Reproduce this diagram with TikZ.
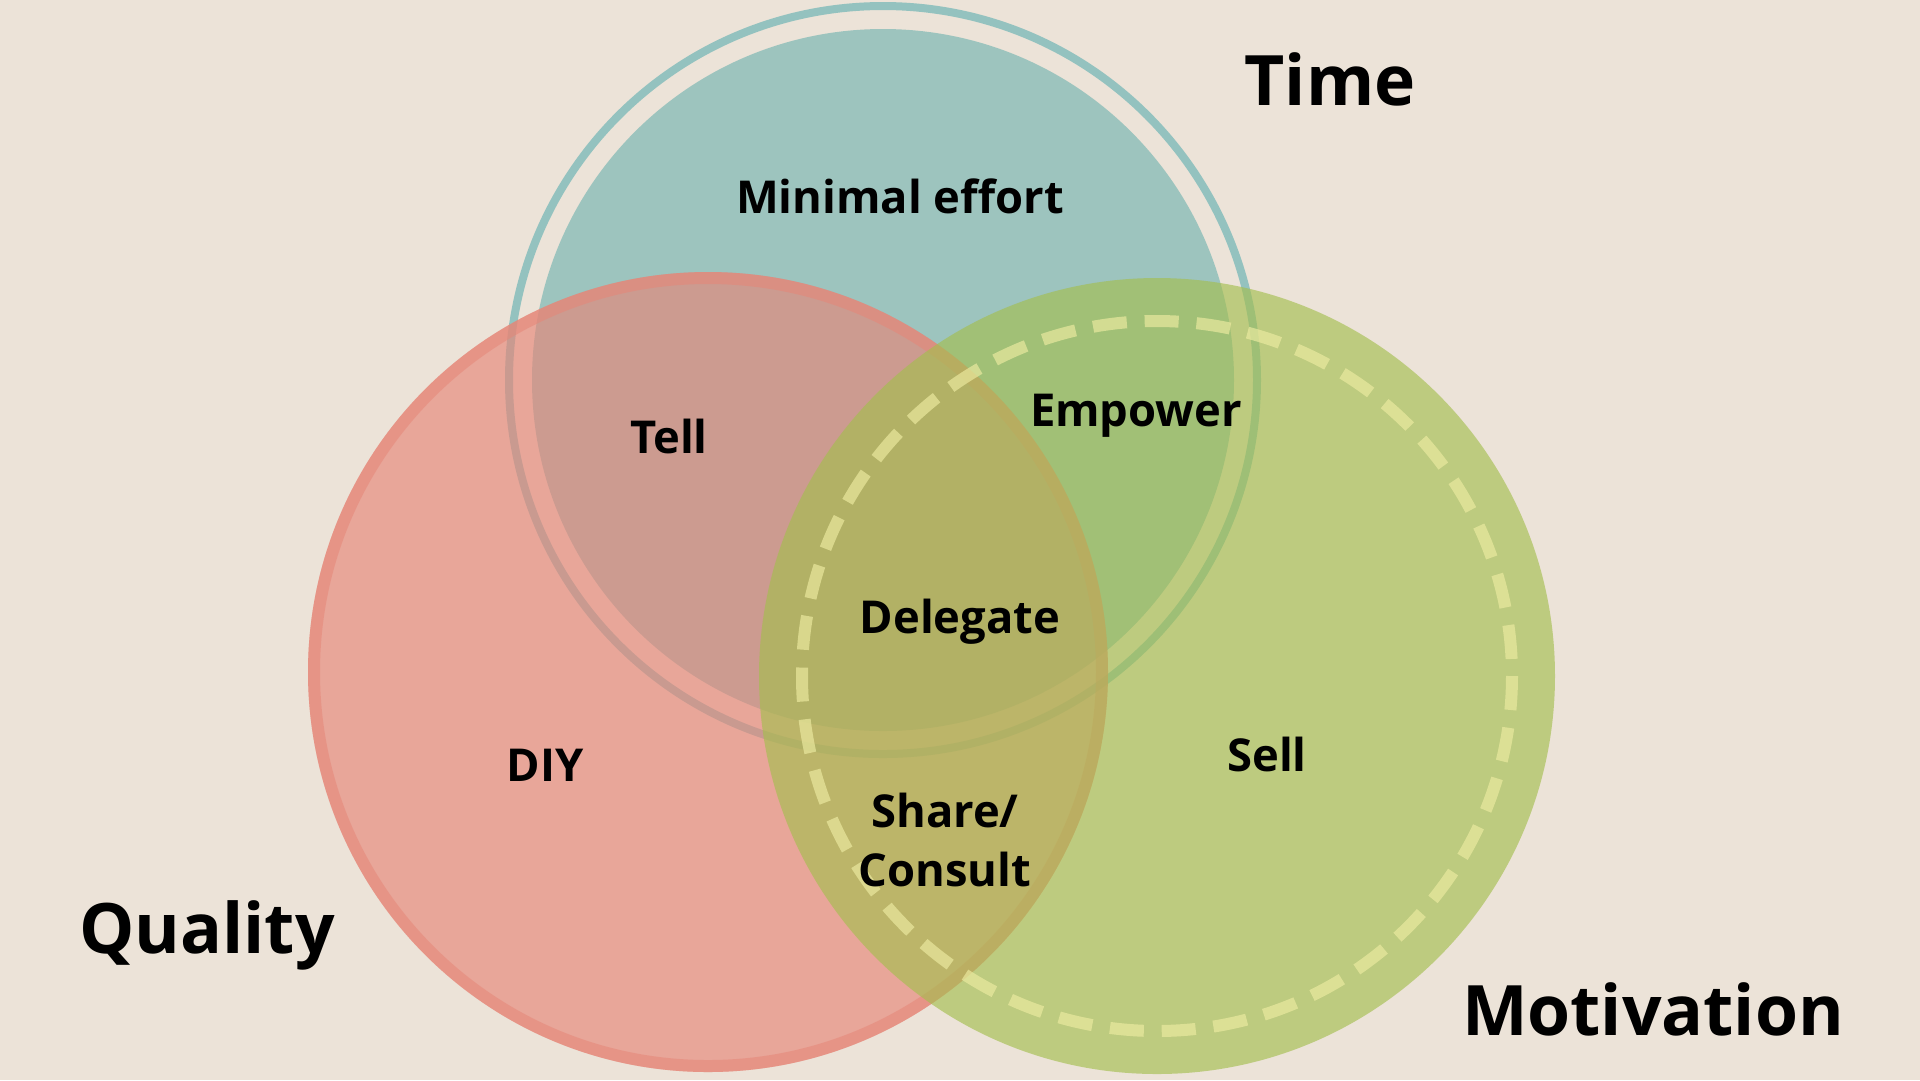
\documentclass[tikz,border=0pt]{standalone}
\usepackage{fontspec}
\setmainfont{Open Sans}
\usepackage{tikz}
\usepackage{xcolor}
\definecolor{paperBeige}{RGB}{236,227,216}
\definecolor{timeTeal}{RGB}{157,196,190}
\definecolor{timeRing}{RGB}{148,194,191}
\definecolor{qualityRed}{RGB}{230,134,120}
\definecolor{motivGreen}{RGB}{164,190,78}
\definecolor{dashYellow}{RGB}{238,236,162}

\begin{document}
\begin{tikzpicture}[
        x=0.1mm, y=-0.1mm,
        region/.style={font=\bfseries\fontsize{12.9}{17}\selectfont, align=center, anchor=base},
        factor/.style={font=\bfseries\fontsize{19.8}{24}\selectfont, anchor=base}
    ]
    \useasboundingbox (0,0) rectangle (1920,1080);
    \fill[paperBeige] (0,0) rectangle (1920,1080);

    \coordinate (timeC) at (883,380);
    \coordinate (qualityC) at (708,672);
    \coordinate (motivC) at (1157,676);

    % time circle with outer ring
    \fill[timeTeal] (timeC) circle (351);
    \draw[timeRing, line width=0.8mm] (timeC) circle (374);

    % quality circle
    \fill[qualityRed, fill opacity=0.65] (qualityC) circle (400);
    \draw[qualityRed, draw opacity=0.55, line width=1.2mm] (qualityC) circle (394);

    % motivation circle with dashed ring
    \fill[motivGreen, fill opacity=0.64] (motivC) circle (398);
    \draw[dashYellow, draw opacity=0.65, line width=1.2mm, dash pattern=on 3.4mm off 1.79mm] (motivC) circle (355);

    \node[region] (minimal) at (900,213) {Minimal effort};
    \node[region] (tell) at (669,453) {Tell};
    \node[region] (empower) at (1136,426) {Empower};
    \node[region] (delegate) at (960,633) {Delegate};
    \node[region] (diy) at (545,781) {DIY};
    \node[region] (sell) at (1267,771) {Sell};
    \node[region, anchor=center] (share) at (945,840) {Share/\\Consult};

    \node[factor] (time) at (1330,105) {Time};
    \node[factor] (quality) at (207,953) {Quality};
    \node[factor] (motivation) at (1653,1035) {Motivation};
\end{tikzpicture}
\end{document}
